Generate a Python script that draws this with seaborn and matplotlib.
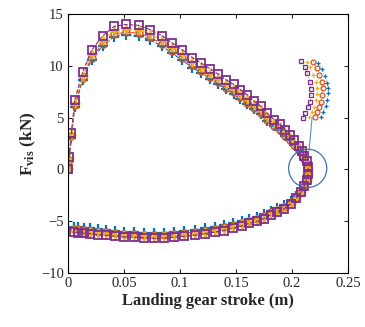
import numpy as np
import pandas as pd
import matplotlib
matplotlib.use("Agg")
import matplotlib.pyplot as plt
import seaborn as sns
from matplotlib.patches import Ellipse

sns.set_style("ticks")
plt.rcParams['font.family'] = ['Liberation Serif', 'DejaVu Serif']
plt.rcParams['mathtext.fontset'] = 'custom'
plt.rcParams['mathtext.rm'] = 'Liberation Serif'
plt.rcParams['mathtext.bf'] = 'Liberation Serif:bold'

# ---- main data (stroke in m, force in kN) ----
stroke = [0.000, 0.001, 0.003, 0.006, 0.013, 0.021, 0.031, 0.041, 0.052, 0.063,
          0.073, 0.084, 0.093, 0.102, 0.111, 0.119, 0.127, 0.134, 0.141, 0.148,
          0.154, 0.160, 0.166, 0.172, 0.178, 0.184, 0.189, 0.194, 0.198, 0.202,
          0.206, 0.209, 0.211, 0.213, 0.2145,
          0.2145, 0.213, 0.211, 0.208, 0.204, 0.199, 0.193, 0.187, 0.181, 0.175,
          0.169, 0.162, 0.155, 0.147, 0.139, 0.131, 0.122, 0.113, 0.104, 0.095,
          0.086, 0.077, 0.068, 0.059, 0.050, 0.042, 0.034, 0.027, 0.020, 0.014,
          0.009, 0.005]

f_blue = [0, 0.9, 3.0, 6.0, 8.6, 10.6, 11.9, 12.8, 13.0, 12.9,
          12.5, 11.9, 11.2, 10.55, 9.8, 9.3, 8.75, 8.25, 7.75, 7.3,
          6.8, 6.3, 5.8, 5.35, 4.7, 4.15, 3.8, 3.25, 2.8, 2.35,
          1.9, 1.45, 1.0, 0.55, 0.0,
          -0.5, -1.05, -1.6, -2.1, -2.6, -3.05, -3.45, -3.75, -4.0, -4.3,
          -4.55, -4.75, -5.0, -5.2, -5.4, -5.55, -5.7, -5.85, -5.95, -6.05,
          -6.1, -6.15, -6.1, -6.05, -6.0, -5.95, -5.85, -5.8, -5.7, -5.65,
          -5.6, -5.55]

f_orange = [0, 0.95, 3.2, 6.2, 8.8, 10.8, 12.15, 13.05, 13.25, 13.15,
            12.75, 12.15, 11.45, 10.8, 10.05, 9.5, 8.95, 8.45, 7.9, 7.45,
            6.95, 6.45, 5.9, 5.4, 4.75, 4.2, 3.8, 3.25, 2.8, 2.35,
            1.9, 1.45, 1.0, 0.55, 0.0,
            -0.5, -1.05, -1.6, -2.15, -2.7, -3.15, -3.6, -3.9, -4.15, -4.5,
            -4.75, -4.95, -5.2, -5.4, -5.6, -5.75, -5.9, -6.05, -6.15, -6.25,
            -6.3, -6.35, -6.3, -6.25, -6.2, -6.15, -6.05, -6.0, -5.9, -5.85,
            -5.8, -5.75]

f_yellow = [0, 1.05, 3.35, 6.45, 9.05, 11.1, 12.5, 13.4, 13.6, 13.5,
            13.1, 12.5, 11.8, 11.15, 10.4, 9.85, 9.3, 8.8, 8.25, 7.8,
            7.3, 6.8, 6.25, 5.75, 5.1, 4.5, 4.1, 3.55, 3.05, 2.55,
            2.1, 1.6, 1.15, 0.65, 0.1,
            -0.45, -1.0, -1.6, -2.2, -2.75, -3.25, -3.7, -4.0, -4.3, -4.65,
            -4.9, -5.1, -5.3, -5.55, -5.75, -5.9, -6.05, -6.2, -6.3, -6.4,
            -6.45, -6.5, -6.45, -6.4, -6.35, -6.3, -6.2, -6.15, -6.05, -6.0,
            -5.95, -5.9]

f_purple = [0, 1.15, 3.5, 6.7, 9.4, 11.5, 12.9, 13.8, 14.0, 13.9,
            13.5, 12.9, 12.2, 11.55, 10.8, 10.25, 9.7, 9.2, 8.65, 8.2,
            7.7, 7.2, 6.6, 6.1, 5.4, 4.8, 4.4, 3.8, 3.3, 2.8,
            2.3, 1.8, 1.3, 0.8, 0.2,
            -0.4, -1.0, -1.6, -2.2, -2.8, -3.3, -3.8, -4.1, -4.4, -4.75,
            -5.0, -5.2, -5.45, -5.7, -5.9, -6.05, -6.2, -6.35, -6.45, -6.55,
            -6.6, -6.65, -6.6, -6.55, -6.5, -6.45, -6.35, -6.3, -6.2, -6.15,
            -6.1, -6.05]

# ---- inset data (zoom on the nose of the loop) ----
ins_x_purple = [0.20949, 0.21039, 0.21088, 0.21145, 0.21166, 0.21166, 0.21145, 0.21109, 0.21039, 0.21004]
ins_y_purple = [1.72, 1.35, 0.95, 0.44, -0.02, -0.36, -0.77, -1.07, -1.44, -1.78]
ins_x_yellow = [0.21088, 0.21145, 0.21214, 0.21265, 0.21286, 0.21286, 0.21271, 0.21235, 0.21180, 0.21130]
ins_y_yellow = [1.65, 1.32, 0.85, 0.44, 0.04, -0.30, -0.67, -1.07, -1.38, -1.71]
ins_x_orange = [0.21214, 0.21286, 0.21340, 0.21391, 0.21412, 0.21404, 0.21376, 0.21340, 0.21286, 0.21250]
ins_y_orange = [1.65, 1.25, 0.85, 0.44, 0.04, -0.36, -0.77, -1.07, -1.38, -1.71]
ins_x_blue = [0.21319, 0.21391, 0.21460, 0.21509, 0.21530, 0.21530, 0.21509, 0.21482, 0.21425, 0.21370]
ins_y_blue = [1.56, 1.19, 0.79, 0.38, 0.04, -0.26, -0.67, -1.03, -1.38, -1.68]

series_names = ["blue", "orange", "yellow", "purple"]
colors = {"blue": "#0072BD", "orange": "#D95319", "yellow": "#EDB120", "purple": "#7E2F8E"}
markers = {"blue": "+", "orange": "o", "yellow": "+", "purple": "s"}
msizes = {"blue": 6.5, "orange": 5, "yellow": 6.5, "purple": 5.5}
mews = {"blue": 1.6, "orange": 1.1, "yellow": 1.8, "purple": 1.3}
main_vals = {"blue": f_blue, "orange": f_orange, "yellow": f_yellow, "purple": f_purple}
ins_vals = {"blue": (ins_x_blue, ins_y_blue), "orange": (ins_x_orange, ins_y_orange),
            "yellow": (ins_x_yellow, ins_y_yellow), "purple": (ins_x_purple, ins_y_purple)}

fig = plt.figure(figsize=(3.65, 3.27), dpi=100)
ax = fig.add_axes([68/365, 1 - 273/327, 280/365, 259/327])

for name in series_names:
    df = pd.DataFrame({"x": stroke, "y": main_vals[name]})
    sns.lineplot(data=df, x="x", y="y", sort=False, estimator=None, ax=ax,
                 color=colors[name], linestyle="--", linewidth=0.8,
                 marker=markers[name], markersize=msizes[name],
                 markeredgewidth=mews[name], markerfacecolor="none",
                 markeredgecolor=colors[name])

ax.set_xlim(0, 0.25)
ax.set_ylim(-10, 15)
ax.set_xticks([0, 0.05, 0.1, 0.15, 0.2, 0.25])
ax.set_xticklabels(["0", "0.05", "0.1", "0.15", "0.2", "0.25"])
ax.set_yticks([-10, -5, 0, 5, 10, 15])
ax.tick_params(direction="in", top=True, right=True, labelsize=10.5, length=3, width=0.8, pad=3)
for s in ax.spines.values():
    s.set_visible(True)
    s.set_linewidth(0.8)
    s.set_color("black")
ax.set_xlabel("Landing gear stroke (m)", fontsize=12, fontweight="bold", labelpad=2)
ax.set_ylabel(r"$\mathbf{F_{vis}}$ $\mathbf{(kN)}$", fontsize=12.5, labelpad=2)

circ = Ellipse((0.2140, 0.1), width=0.034, height=3.7, fill=False,
               edgecolor="#3a73a8", linewidth=0.9, zorder=10)
ax.add_patch(circ)
ax.plot([0.2152, 0.2179], [1.8, 5.0], color="#5b8fc0", linewidth=0.8, zorder=10)

iax = fig.add_axes([294/365, 1 - 122/327, 40/365, 66/327])
for name in ["purple", "yellow", "orange", "blue"]:
    xs, ys = ins_vals[name]
    dfi = pd.DataFrame({"x": xs, "y": ys})
    sns.lineplot(data=dfi, x="x", y="y", sort=False, estimator=None, ax=iax,
                 color=colors[name], linestyle=":", linewidth=0.5,
                 marker=markers[name], markersize=3.5, markeredgewidth=0.9,
                 markerfacecolor="none", markeredgecolor=colors[name])
iax.set_xlim(0.20808, 0.21650)
iax.set_ylim(-2, 2)
iax.axis("off")

fig.savefig("out.png", dpi=100)
